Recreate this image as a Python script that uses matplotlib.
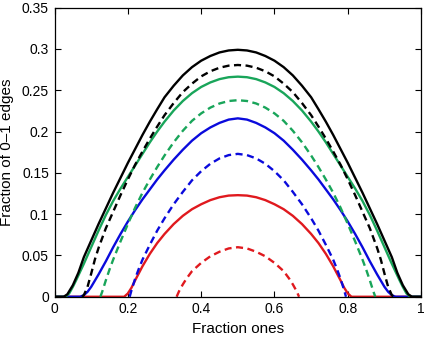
import matplotlib
matplotlib.use("Agg")
import matplotlib.pyplot as plt

# ---- data ----
black_solid_x = [0.0, 0.025, 0.035, 0.05, 0.065, 0.08, 0.10, 0.12, 0.14, 0.16, 0.18, 0.20, 0.22, 0.24, 0.26, 0.28, 0.30, 0.325, 0.35, 0.375, 0.40, 0.425, 0.45, 0.475, 0.50,
                 0.525, 0.55, 0.575, 0.60, 0.625, 0.65, 0.675, 0.70, 0.72, 0.74, 0.76, 0.78, 0.80, 0.82, 0.84, 0.86, 0.88, 0.90, 0.92, 0.935, 0.95, 0.965, 0.975, 1.0]
black_solid_y = [0.0, 0.0, 0.003, 0.014, 0.029, 0.048, 0.068, 0.088, 0.107, 0.126, 0.144, 0.162, 0.179, 0.196, 0.212, 0.227, 0.2415, 0.2555, 0.268, 0.278, 0.2858, 0.2915, 0.2958, 0.2982, 0.299,
                 0.2982, 0.2958, 0.2915, 0.2858, 0.278, 0.268, 0.2555, 0.2415, 0.227, 0.212, 0.196, 0.179, 0.162, 0.144, 0.126, 0.107, 0.088, 0.068, 0.048, 0.029, 0.014, 0.003, 0.0, 0.0]

black_dash_x = [0.075, 0.08, 0.09, 0.10, 0.11, 0.12, 0.14, 0.16, 0.18, 0.20, 0.22, 0.24, 0.26, 0.28, 0.30, 0.325, 0.35, 0.375, 0.40, 0.425, 0.45, 0.475, 0.50,
                0.525, 0.55, 0.575, 0.60, 0.625, 0.65, 0.675, 0.70, 0.72, 0.74, 0.76, 0.78, 0.80, 0.82, 0.84, 0.86, 0.88, 0.89, 0.90, 0.91, 0.92, 0.925]
black_dash_y = [0.0, 0.002, 0.012, 0.028, 0.045, 0.059, 0.083, 0.103, 0.123, 0.142, 0.160, 0.176, 0.1915, 0.206, 0.2198, 0.2345, 0.2478, 0.258, 0.2668, 0.273, 0.2773, 0.2798, 0.2806,
                0.2798, 0.2773, 0.273, 0.2668, 0.258, 0.2478, 0.2345, 0.2198, 0.206, 0.1915, 0.176, 0.160, 0.142, 0.123, 0.103, 0.083, 0.059, 0.045, 0.028, 0.012, 0.002, 0.0]

green_solid_x = [0.0, 0.03, 0.04, 0.05, 0.06, 0.08, 0.10, 0.12, 0.14, 0.16, 0.18, 0.20, 0.22, 0.24, 0.26, 0.28, 0.30, 0.325, 0.35, 0.375, 0.40, 0.425, 0.45, 0.475, 0.50,
                 0.525, 0.55, 0.575, 0.60, 0.625, 0.65, 0.675, 0.70, 0.72, 0.74, 0.76, 0.78, 0.80, 0.82, 0.84, 0.86, 0.88, 0.90, 0.92, 0.94, 0.95, 0.96, 0.97, 1.0]
green_solid_y = [0.0, 0.0, 0.004, 0.012, 0.021, 0.040, 0.060, 0.080, 0.099, 0.116, 0.131, 0.145, 0.159, 0.173, 0.187, 0.200, 0.212, 0.2255, 0.237, 0.2465, 0.254, 0.2595, 0.2635, 0.2658, 0.2665,
                 0.2658, 0.2635, 0.2595, 0.254, 0.2465, 0.237, 0.2255, 0.212, 0.200, 0.187, 0.173, 0.159, 0.145, 0.131, 0.116, 0.099, 0.080, 0.060, 0.040, 0.021, 0.012, 0.004, 0.0, 0.0]

green_dash_x = [0.125, 0.13, 0.14, 0.15, 0.16, 0.17, 0.18, 0.20, 0.22, 0.24, 0.26, 0.28, 0.30, 0.325, 0.35, 0.375, 0.40, 0.425, 0.45, 0.475, 0.50,
                0.525, 0.55, 0.575, 0.60, 0.625, 0.65, 0.675, 0.70, 0.72, 0.74, 0.76, 0.78, 0.80, 0.82, 0.83, 0.84, 0.85, 0.86, 0.87, 0.875]
green_dash_y = [0.0, 0.006, 0.020, 0.033, 0.045, 0.056, 0.067, 0.088, 0.108, 0.126, 0.142, 0.157, 0.171, 0.187, 0.201, 0.213, 0.222, 0.229, 0.234, 0.237, 0.238,
                0.237, 0.234, 0.229, 0.222, 0.213, 0.201, 0.187, 0.171, 0.157, 0.142, 0.126, 0.108, 0.088, 0.067, 0.056, 0.045, 0.033, 0.020, 0.006, 0.0]

blue_solid_x = [0.0, 0.07, 0.08, 0.09, 0.10, 0.12, 0.14, 0.16, 0.18, 0.20, 0.22, 0.24, 0.26, 0.28, 0.30, 0.325, 0.35, 0.375, 0.40, 0.425, 0.45, 0.475, 0.50,
                0.525, 0.55, 0.575, 0.60, 0.625, 0.65, 0.675, 0.70, 0.72, 0.74, 0.76, 0.78, 0.80, 0.82, 0.84, 0.86, 0.88, 0.90, 0.91, 0.92, 0.93, 1.0]
blue_solid_y = [0.0, 0.0, 0.002, 0.006, 0.012, 0.027, 0.043, 0.060, 0.076, 0.091, 0.105, 0.118, 0.130, 0.142, 0.153, 0.166, 0.178, 0.189, 0.198, 0.205, 0.2105, 0.2145, 0.216,
                0.2145, 0.2105, 0.205, 0.198, 0.189, 0.178, 0.166, 0.153, 0.142, 0.130, 0.118, 0.105, 0.091, 0.076, 0.060, 0.043, 0.027, 0.012, 0.006, 0.002, 0.0, 0.0]

blue_dash_x = [0.205, 0.21, 0.22, 0.23, 0.24, 0.26, 0.28, 0.30, 0.325, 0.35, 0.375, 0.40, 0.425, 0.45, 0.475, 0.50,
               0.525, 0.55, 0.575, 0.60, 0.625, 0.65, 0.675, 0.70, 0.72, 0.74, 0.76, 0.77, 0.78, 0.79, 0.795]
blue_dash_y = [0.0, 0.008, 0.022, 0.034, 0.045, 0.063, 0.080, 0.095, 0.112, 0.127, 0.141, 0.152, 0.161, 0.1675, 0.1715, 0.173,
               0.1715, 0.1675, 0.161, 0.152, 0.141, 0.127, 0.112, 0.095, 0.080, 0.063, 0.045, 0.034, 0.022, 0.008, 0.0]

red_solid_x = [0.0, 0.19, 0.20, 0.21, 0.22, 0.24, 0.26, 0.28, 0.30, 0.325, 0.35, 0.375, 0.40, 0.425, 0.45, 0.475, 0.50,
               0.525, 0.55, 0.575, 0.60, 0.625, 0.65, 0.675, 0.70, 0.72, 0.74, 0.76, 0.78, 0.79, 0.80, 0.81, 1.0]
red_solid_y = [0.0, 0.0, 0.004, 0.011, 0.020, 0.037, 0.052, 0.065, 0.076, 0.088, 0.098, 0.106, 0.112, 0.117, 0.1205, 0.1225, 0.123,
               0.1225, 0.1205, 0.117, 0.112, 0.106, 0.098, 0.088, 0.076, 0.065, 0.052, 0.037, 0.020, 0.011, 0.004, 0.0, 0.0]

red_dash_x = [0.333, 0.34, 0.35, 0.36, 0.375, 0.40, 0.425, 0.45, 0.475, 0.50,
              0.525, 0.55, 0.575, 0.60, 0.625, 0.64, 0.65, 0.66, 0.667]
red_dash_y = [0.0, 0.007, 0.015, 0.022, 0.031, 0.041, 0.049, 0.0545, 0.0585, 0.060,
              0.0585, 0.0545, 0.049, 0.041, 0.031, 0.022, 0.015, 0.007, 0.0]

x_ticks = [0, 0.2, 0.4, 0.6, 0.8, 1]
x_tick_labels = ["0", "0.2", "0.4", "0.6", "0.8", "1"]
y_ticks = [0, 0.05, 0.1, 0.15, 0.2, 0.25, 0.3, 0.35]
y_tick_labels = ["0", "0.05", "0.1", "0.15", "0.2", "0.25", "0.3", "0.35"]

# ---- styling ----
plt.rcParams['font.family'] = ['Liberation Sans', 'DejaVu Sans']
BLACK = '#000000'
GREEN = '#19a55a'
BLUE = '#0a0adc'
RED = '#e0191e'
LW = 1.7
DASH = (3.0, 1.9)

fig = plt.figure(figsize=(4.26, 3.38), dpi=100)
ax = fig.add_axes([0.128, 0.122, 0.8606, 0.8553])

ax.plot(red_dash_x, red_dash_y, color=RED, lw=LW, dashes=DASH)
ax.plot(red_solid_x, red_solid_y, color=RED, lw=LW)
ax.plot(blue_dash_x, blue_dash_y, color=BLUE, lw=LW, dashes=DASH)
ax.plot(blue_solid_x, blue_solid_y, color=BLUE, lw=LW)
ax.plot(green_dash_x, green_dash_y, color=GREEN, lw=LW, dashes=DASH)
ax.plot(green_solid_x, green_solid_y, color=GREEN, lw=LW)
ax.plot(black_dash_x, black_dash_y, color=BLACK, lw=LW, dashes=DASH)
ax.plot(black_solid_x, black_solid_y, color=BLACK, lw=LW)

ax.set_xlim(0, 1)
ax.set_ylim(0, 0.35)
ax.set_xticks(x_ticks)
ax.set_xticklabels(x_tick_labels)
ax.set_yticks(y_ticks)
ax.set_yticklabels(y_tick_labels)
ax.tick_params(direction='in', length=4, width=0.8, top=True, right=True, labelsize=10, pad=4)
for s in ax.spines.values():
    s.set_linewidth(0.9)
ax.set_xlabel("Fraction ones", fontsize=11, labelpad=4)
ax.set_ylabel("Fraction of 0\u20131 edges", fontsize=11, labelpad=6)

fig.savefig("out.png", dpi=100)
